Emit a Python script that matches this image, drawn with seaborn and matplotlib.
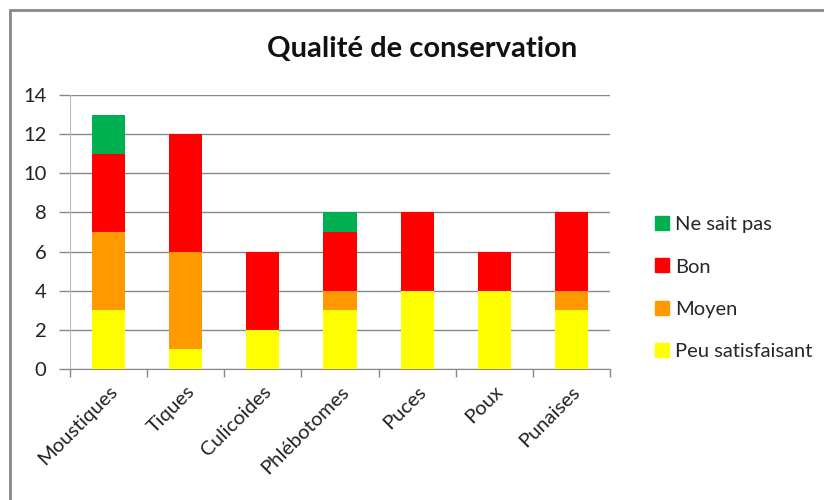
import matplotlib
matplotlib.use("Agg")
import matplotlib.pyplot as plt
import seaborn as sns
import numpy as np
import pandas as pd
from matplotlib.lines import Line2D

categories = ["Moustiques", "Tiques", "Culicoides", "Phlébotomes", "Puces", "Poux", "Punaises"]
peu_satisfaisant = [3, 1, 2, 3, 4, 4, 3]
moyen = [4, 5, 0, 1, 0, 0, 1]
bon = [4, 6, 4, 3, 4, 2, 4]
ne_sait_pas = [2, 0, 0, 1, 0, 0, 0]
series_names = ["Peu satisfaisant", "Moyen", "Bon", "Ne sait pas"]
series_values = [peu_satisfaisant, moyen, bon, ne_sait_pas]
colors = ["#FFFF00", "#FF9900", "#FF0000", "#00B050"]
yticks = [0, 2, 4, 6, 8, 10, 12, 14]

sns.set_style("white")
plt.rcParams['font.family'] = ['Lato', 'DejaVu Sans']

fig = plt.figure(figsize=(8.24, 5.0), dpi=100)
ax = fig.add_axes([70/824, 1-369/500, 540/824, 274/500])

bottom = np.zeros(len(categories))
for name, vals, col in zip(series_names, series_values, colors):
    df = pd.DataFrame({"cat": categories, "val": vals})
    sns.barplot(data=df, x="cat", y="val", color=col, bottom=bottom,
                width=0.43, ax=ax, linewidth=0, saturation=1, zorder=3)
    bottom = bottom + np.array(vals)

ax.set_xlim(-0.5, len(categories) - 0.5)
ax.set_ylim(0, 14)
ax.set_yticks(yticks)
ax.set_yticklabels([str(t) for t in yticks], fontsize=14.5, color="#222222")
ax.yaxis.grid(True, color="#888888", linewidth=1, zorder=0)
ax.set_axisbelow(True)
ax.tick_params(axis="y", length=8, width=1, color="#888888", pad=9, left=True)
ax.set_xticks(np.arange(len(categories)))
ax.set_xticklabels(categories, rotation=45, ha="right", rotation_mode="anchor",
                   fontsize=14.5, color="#222222")
ax.tick_params(axis="x", length=0, pad=10)
ax.set_xticks(np.arange(-0.5, len(categories)), minor=True)
ax.tick_params(axis="x", which="minor", length=6, width=1, color="#888888", bottom=True)
ax.set_xlabel("")
ax.set_ylabel("")
for s in ["top", "right"]:
    ax.spines[s].set_visible(False)
ax.spines["left"].set_color("#BBBBBB")
ax.spines["bottom"].set_color("#888888")

fig.text(422/824, 1-49/500, "Qualité de conservation", ha="center", va="center",
         fontsize=21, fontweight="bold", color="#111111")

handles = [Line2D([0], [0], marker="s", linestyle="none", markersize=10,
                  markerfacecolor=c, markeredgecolor=c) for c in colors[::-1]]
leg = fig.legend(handles, series_names[::-1], loc="center left",
                 bbox_to_anchor=(636/824, 1-288/500), frameon=False, fontsize=14.5,
                 labelspacing=1.24, handlelength=0.8, handletextpad=0.25)

# chart frame: only top and left edges visible
fig.add_artist(Line2D([10/824, 10/824], [0, 1-10/500], transform=fig.transFigure,
                      color="#888888", linewidth=2))
fig.add_artist(Line2D([10/824, 1], [1-10/500, 1-10/500], transform=fig.transFigure,
                      color="#888888", linewidth=2))

fig.savefig("out.png", dpi=100)
